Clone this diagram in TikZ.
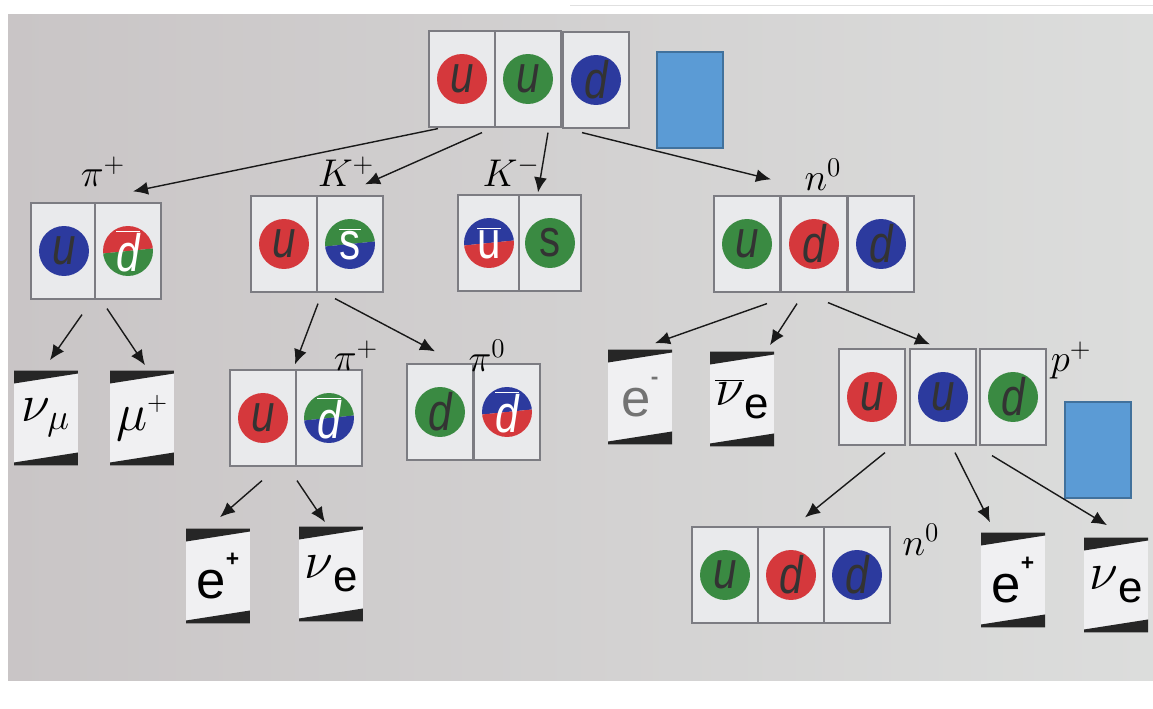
\RequirePackage{fix-cm}
\documentclass[tikz,border=0pt]{standalone}
\usepackage{fontspec}
\newfontfamily\qfont{Liberation Sans}
\newfontfamily\qnarrow{Liberation Sans}[FakeStretch=0.8]
\usepackage{xcolor}
\usepackage{tikz}
\usetikzlibrary{positioning, arrows.meta, calc}

\definecolor{bgphoto}{HTML}{DCDDDC}
\definecolor{bgleft}{HTML}{C9C5C6}
\definecolor{cardfill}{HTML}{E9EAEC}
\definecolor{cardline}{HTML}{7C7C82}
\definecolor{qred}{HTML}{D5383C}
\definecolor{qgreen}{HTML}{3A8A42}
\definecolor{qblue}{HTML}{2C3A9E}
\definecolor{boxblue}{HTML}{5B9BD5}
\definecolor{boxline}{HTML}{41719C}

\begin{document}
\begin{tikzpicture}[
    % one pixel of the board = one unit
    x=0.02cm, y=-0.02cm,
    % card with a coloured quark
    qcard/.style={
        draw=cardline,
        line width=0.7pt,
        fill=cardfill,
        minimum width=1.32cm,
        minimum height=1.92cm,
        inner sep=0pt,
        text=black!80,
        font=\qnarrow\itshape\fontsize{30}{30}\selectfont
    },
    quark/.style={
        qcard,
        path picture={\fill[#1] (path picture bounding box.center) circle[radius=0.5cm];}
    },
    antiquark/.style 2 args={
        qcard,
        text=white,
        path picture={
            \coordinate (qc) at (path picture bounding box.center);
            \clip (qc) circle[radius=0.5cm];
            \fill[#1] ($(qc)+(-30,3)$) -- ($(qc)+(30,-3)$) -- ($(qc)+(30,-30)$) -- ($(qc)+(-30,-30)$) -- cycle;
            \fill[#2] ($(qc)+(-30,3)$) -- ($(qc)+(30,-3)$) -- ($(qc)+(30,30)$) -- ($(qc)+(-30,30)$) -- cycle;}
    },
    % card with a lepton
    lcard/.style={
        fill=cardfill!70!white,
        minimum width=1.28cm,
        minimum height=1.9cm,
        inner sep=0pt,
        font=\fontsize{30}{30}\selectfont,
        path picture={
            \fill[black!85] (path picture bounding box.north west) -- (path picture bounding box.north east)
                -- ++(0,-0.06cm) -- ($(path picture bounding box.north west)+(0,-0.26cm)$) -- cycle;
            \fill[black!85] (path picture bounding box.south west) -- (path picture bounding box.south east)
                -- ++(0,0.26cm) -- ($(path picture bounding box.south west)+(0,0.06cm)$) -- cycle;}
    },
    bluebox/.style={
        draw=boxline,
        line width=0.8pt,
        fill=boxblue,
        minimum width=1.32cm,
        minimum height=1.92cm
    },
    hlabel/.style={inner sep=0pt, font=\fontsize{22}{22}\selectfont},
    arrow/.style={
        -{Latex[length=3mm, width=2.6mm]},
        line width=0.8pt,
        draw=black!90
    }
]

% =====================================================================
% BOARD
% =====================================================================
\path[use as bounding box] (0,0) rectangle (1153,709);
\fill[white] (0,0) rectangle (1153,709);
\shade[left color=bgleft, middle color=bgphoto, right color=bgphoto] (8,15) rectangle (1153,680);
\draw[black!12] (570,5) -- (1153,5);

% =====================================================================
% CARDS
% =====================================================================
% proton
\node[quark=qred] (top1) at (462,79) {u};
\node[quark=qgreen] (top2) at (528,79) {u};
\node[quark=qblue] (top3) at (596,80) {d};
\node[bluebox] (box1) at (690,100) {};

% pi+
\node[quark=qblue] (pip1) at (64,251) {u};
\node[antiquark={qred}{qgreen}] (pip2) at (128,251) {$\overline{\mbox{d}}$};
% K+
\node[quark=qred] (kp1) at (284,244) {u};
\node[antiquark={qgreen}{qblue}] (kp2) at (350,244) {$\overline{\mbox{\upshape s}}$};
% K-
\node[antiquark={qblue}{qred}, minimum width=1.24cm] (km1) at (489,243) {$\overline{\mbox{\upshape u}}$};
\node[quark=qgreen, minimum width=1.24cm] (km2) at (550,243) {\upshape s};
% n0
\node[quark=qgreen] (n1) at (747,244) {u};
\node[quark=qred] (n2) at (814,244) {d};
\node[quark=qblue] (n3) at (881,244) {d};

% pi+ (from K+)
\node[quark=qred] (pib1) at (263,418) {u};
\node[antiquark={qgreen}{qblue}] (pib2) at (329,418) {$\overline{\mbox{d}}$};
% pi0
\node[quark=qgreen] (piz1) at (440,412) {d};
\node[antiquark={qblue}{qred}] (piz2) at (507,412) {$\overline{\mbox{d}}$};
% p+
\node[quark=qred] (p1) at (872,397) {u};
\node[quark=qblue] (p2) at (943,397) {u};
\node[quark=qgreen] (p3) at (1013,397) {d};
\node[bluebox] (box2) at (1098,450) {};
% n0 (from p+)
\node[quark=qgreen] (nb1) at (725,575) {u};
\node[quark=qred] (nb2) at (791,575) {d};
\node[quark=qblue] (nb3) at (857,575) {d};

% leptons
\node[lcard] (numu) at (46,418) {$\nu_\mu$};
\node[lcard] (mup) at (142,418) {$\mu^{\scriptscriptstyle +}$};
\node[lcard] (epa) at (218,576) {{\qfont e}\raisebox{0.6em}{\fontsize{13}{13}\qfont\bfseries +}};
\node[lcard] (nuea) at (331,574) {$\nu$\raisebox{-0.25em}{\fontsize{25}{25}\qfont e}};
\node[lcard, text=black!55] (elm) at (640,397) {{\qfont e}\raisebox{0.6em}{\fontsize{13}{13}\qfont\bfseries -}};
\node[lcard] (anue) at (742,399) {$\overline{\nu}$\raisebox{-0.25em}{\fontsize{25}{25}\qfont e}};
\node[lcard] (epb) at (1013,580) {{\qfont e}\raisebox{0.6em}{\fontsize{13}{13}\qfont\bfseries +}};
\node[lcard] (nueb) at (1116,585) {$\nu$\raisebox{-0.25em}{\fontsize{25}{25}\qfont e}};

% =====================================================================
% LABELS
% =====================================================================
\node[hlabel] (lpip) at (103,172) {$\pi^+$};
\node[hlabel] (lkp) at (346,172) {$K^+$};
\node[hlabel] (lkm) at (511,172) {$K^-$};
\node[hlabel] (ln) at (823,175) {$n^0$};
\node[hlabel] (lpib) at (356,356) {$\pi^+$};
\node[hlabel] (lpiz) at (487,356) {$\pi^0$};
\node[hlabel] (lp) at (1071,360) {$p^+$};
\node[hlabel] (lnb) at (921,540) {$n^0$};

% =====================================================================
% DECAY ARROWS
% =====================================================================
\draw [arrow] ($(top1.south)+(-24,1)$) -- ($(pip2.north)+(5,-11)$);
\draw [arrow] ($(top2.south)+(-46,5)$) -- ($(kp2.north)+(15,-11)$);
\draw [arrow] ($(top2.south)+(20,5)$) -- ($(km2.north)+(-12,-2)$);
\draw [arrow] ($(top3.south)+(-14,4)$) -- ($(n2.north)+(-43,-16)$);
\draw [arrow] ($(pip1.south)+(18,15)$) -- ($(numu.north)+(4,-10)$);
\draw [arrow] ($(pip2.south)+(-21,9)$) -- ($(mup.north)+(3,-5)$);
\draw [arrow] ($(kp2.south)+(-32,11)$) -- ($(pib1.north)+(32,-5)$);
\draw [arrow] ($(kp2.south)+(-15,6)$) -- ($(piz1.north)+(-5,-12)$);
\draw [arrow] ($(pib1.south)+(-1,14)$) -- ($(epa.north)+(2,-11)$);
\draw [arrow] ($(pib2.south)+(-32,14)$) -- ($(nuea.north)+(-6,-4)$);
\draw [arrow] ($(n2.south)+(-47,11)$) -- ($(elm.north)+(15,-6)$);
\draw [arrow] ($(n2.south)+(-17,11)$) -- ($(anue.north)+(28,-6)$);
\draw [arrow] ($(n2.south)+(14,10)$) -- ($(p2.north)+(-13,-4)$);
\draw [arrow] ($(p1.south)+(13,7)$) -- ($(nb2.north)+(14,-9)$);
\draw [arrow] ($(p2.south)+(12,7)$) -- ($(epb.north)+(-23,-10)$);
\draw [arrow] ($(p3.south)+(-21,10)$) -- ($(nueb.north)+(-9,-12)$);

\end{tikzpicture}
\end{document}
